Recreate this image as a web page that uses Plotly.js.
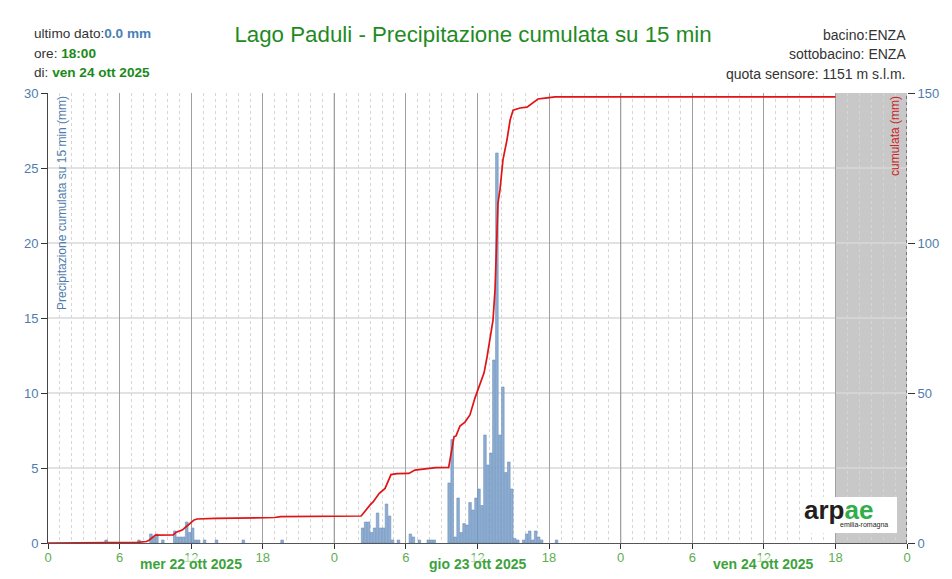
<!DOCTYPE html>
<html><head><meta charset="utf-8">
<script src="https://cdn.plot.ly/plotly-3.0.1.min.js"></script>
<style>html,body{margin:0;padding:0;background:#fff;} #chart{width:952px;height:579px;}</style>
</head><body><div id="chart"></div>
<script>
// ---- DATA ----
const barTimes = [
 '2025-10-22 04:45','2025-10-22 07:30','2025-10-22 08:30','2025-10-22 08:45','2025-10-22 09:00','2025-10-22 09:30',
 '2025-10-22 10:30','2025-10-22 10:45','2025-10-22 11:00','2025-10-22 11:15','2025-10-22 11:30','2025-10-22 11:45',
 '2025-10-22 12:00','2025-10-22 12:15','2025-10-22 12:30','2025-10-22 13:00','2025-10-22 14:00','2025-10-22 16:15','2025-10-22 19:30',
 '2025-10-23 02:15','2025-10-23 02:30','2025-10-23 02:45','2025-10-23 03:00','2025-10-23 03:15','2025-10-23 03:30',
 '2025-10-23 03:45','2025-10-23 04:00','2025-10-23 04:15','2025-10-23 04:30','2025-10-23 04:45','2025-10-23 05:15',
 '2025-10-23 06:15','2025-10-23 06:30','2025-10-23 07:00','2025-10-23 07:45','2025-10-23 08:00','2025-10-23 08:15',
 '2025-10-23 09:30','2025-10-23 09:45','2025-10-23 10:00','2025-10-23 10:15','2025-10-23 10:30','2025-10-23 10:45',
 '2025-10-23 11:00','2025-10-23 11:15','2025-10-23 11:30','2025-10-23 11:45','2025-10-23 12:00','2025-10-23 12:15',
 '2025-10-23 12:30','2025-10-23 12:45','2025-10-23 13:00','2025-10-23 13:15','2025-10-23 13:30','2025-10-23 13:45',
 '2025-10-23 14:00','2025-10-23 14:15','2025-10-23 14:30','2025-10-23 14:45','2025-10-23 15:00','2025-10-23 15:15',
 '2025-10-23 15:45','2025-10-23 16:00','2025-10-23 16:15','2025-10-23 16:30','2025-10-23 16:45','2025-10-23 17:00',
 '2025-10-23 17:15','2025-10-23 18:30'
];
const barValues = [
 0.2,0.2,0.6,0.4,0.6,0.2,
 0.8,0.4,0.4,0.4,1.4,0.7,
 1.0,0.2,0.2,0.2,0.2,0.2,0.2,
 1.0,1.4,1.4,0.7,1.0,2.0,
 1.0,1.0,2.6,1.8,0.2,0.2,
 0.6,0.4,0.2,0.2,0.2,0.2,
 4.0,6.9,0.4,3.0,0.7,1.3,
 1.2,2.7,2.2,3.0,3.6,2.5,
 7.2,5.2,6.0,12.2,26.0,7.2,
 10.4,4.7,5.4,3.6,0.3,0.2,
 0.2,0.6,0.8,0.2,0.8,0.4,
 0.2,0.2
];
const lineTimes = [
 '2025-10-22 00:00','2025-10-22 04:45','2025-10-22 05:00','2025-10-22 07:30','2025-10-22 08:15','2025-10-22 08:30',
 '2025-10-22 09:00','2025-10-22 10:30','2025-10-22 10:45','2025-10-22 11:15','2025-10-22 11:45','2025-10-22 12:15',
 '2025-10-22 12:30','2025-10-22 14:00','2025-10-22 19:00','2025-10-22 19:30',
 '2025-10-23 02:15','2025-10-23 02:30','2025-10-23 03:00','2025-10-23 03:15','2025-10-23 03:45','2025-10-23 04:15',
 '2025-10-23 04:45','2025-10-23 05:15','2025-10-23 06:15','2025-10-23 06:45','2025-10-23 08:00','2025-10-23 08:30',
 '2025-10-23 09:35','2025-10-23 10:02','2025-10-23 10:12','2025-10-23 10:32','2025-10-23 10:57','2025-10-23 11:22',
 '2025-10-23 11:47','2025-10-23 12:13','2025-10-23 12:33','2025-10-23 12:48','2025-10-23 13:03','2025-10-23 13:18',
 '2025-10-23 13:28','2025-10-23 13:38','2025-10-23 13:43','2025-10-23 13:53','2025-10-23 14:08','2025-10-23 14:28',
 '2025-10-23 14:44','2025-10-23 14:59','2025-10-23 15:34','2025-10-23 16:09','2025-10-23 16:39','2025-10-23 17:04',
 '2025-10-23 17:40','2025-10-23 18:30','2025-10-24 18:00'
];
const lineValues = [
 0,0,0.2,0.2,0.5,1.0,
 2.6,2.7,3.6,4.3,6.0,7.7,
 8.0,8.2,8.5,8.8,
 9.0,10.3,12.7,13.7,16.5,18.2,
 22.8,23.1,23.2,24.3,24.9,25.1,
 25.2,35.4,35.7,39.0,40.3,42.7,
 48.3,52.7,56.7,62.0,67.7,74.3,
 84.3,101.0,113.3,117.7,127.7,134.3,
 141.0,144.3,145.0,145.3,146.7,148.0,
 148.3,148.7,148.7
];
const days = ['2025-10-22','2025-10-23','2025-10-24'];
const dayLabels = ['mer 22 ott 2025','gio 23 ott 2025','ven 24 ott 2025'];
const rangeStart = '2025-10-22 00:00', rangeEnd = '2025-10-25 00:00';
const lastDataTime = '2025-10-24 18:00';
const leftTicks = [0, 5, 10, 15, 20, 25, 30];
const titleText = 'Lago Paduli - Precipitazione cumulata su 15 min';
const infoLeft = [['ultimo dato:', '0.0 mm'], ['ore: ', '18:00'], ['di: ', 'ven 24 ott 2025']];
const infoRight = ['bacino:ENZA', 'sottobacino: ENZA', 'quota sensore: 1151 m s.l.m.'];
const yLeftTitle = 'Precipitazione cumulata su 15 min (mm)';
const yRightTitle = 'cumulata (mm)';

// ---- STYLE ----
const FONT = '"Liberation Sans", Arial, sans-serif';
const HOUR = 3600000;
const plotTop = 93, plotBottom = 543, plotH = 450;
const py = (pix) => (plotBottom - pix) / plotH;

const traces = [
 {type:'bar', x: barTimes, y: barValues, yaxis:'y', width: 13*60000, offset: 60000,
  marker:{color:'#8eaed3', line:{color:'#6d90bb', width:0.6}}, hoverinfo:'skip'},
 {type:'scatter', mode:'lines', x: lineTimes, y: lineValues, yaxis:'y2',
  line:{color:'#e01414', width:1.7}, hoverinfo:'skip'}
];

const shapes = [
 {type:'rect', xref:'x', yref:'paper', x0:lastDataTime, x1:rangeEnd, y0:0, y1:1, fillcolor:'#c8c8c8', line:{width:0}, layer:'below'}
];
// horizontal grid lines (left-axis ticks)
leftTicks.slice(1, -1).forEach(v => {
 shapes.push({type:'line', xref:'paper', yref:'y', x0:0, x1:1, y0:v, y1:v, line:{color:'#d8d8d8', width:1.5}, layer:'between'});
});
shapes.push(
 {type:'line', xref:'x', yref:'paper', x0:days[1]+' 00:00', x1:days[1]+' 00:00', y0:0, y1:1, line:{color:'#555', width:1}, layer:'between'},
 {type:'line', xref:'x', yref:'paper', x0:days[2]+' 00:00', x1:days[2]+' 00:00', y0:0, y1:1, line:{color:'#555', width:1}, layer:'between'},
 {type:'line', xref:'x', yref:'paper', x0:rangeEnd, x1:rangeEnd, y0:0, y1:1, line:{color:'#444', width:1.2, dash:'dot'}, layer:'between'},
 {type:'rect', xref:'paper', yref:'paper', x0:(802-48)/859, x1:(897-48)/859, y0:py(533), y1:py(497), fillcolor:'#ffffff', line:{width:0}, layer:'above'}
);

const annotations = [];
const leftY = [34, 53, 72];
infoLeft.forEach((p, i) => {
 const col = i === 0 ? '#4a7fb5' : '#1a8a1a';
 annotations.push({xref:'paper', yref:'paper', x:0, xshift:-16, y:py(leftY[i]), xanchor:'left', yanchor:'middle', showarrow:false,
  text: p[0] + '<b><span style="color:' + col + '">' + p[1] + '</span></b>', font:{family:FONT, size:13.6, color:'#333'}});
});
const rightY = [35, 54, 74];
infoRight.forEach((t, i) => {
 annotations.push({xref:'paper', yref:'paper', x:1, xshift:1, y:py(rightY[i]), xanchor:'right', yanchor:'middle', showarrow:false,
  text: t, font:{family:FONT, size:14, color:'#333'}});
});
days.forEach((d, i) => {
 annotations.push({xref:'x', yref:'paper', x:d + ' 12:00', y:0, yshift:-21, xanchor:'center', yanchor:'middle', showarrow:false,
  text:'<b>' + dayLabels[i] + '</b>', font:{family:FONT, size:14, color:'#3ca33c'}, bgcolor:'rgba(255,255,255,0.55)', borderpad:0});
});
annotations.push({xref:'paper', yref:'paper', x:0, xshift:5, y:1, yshift:-1, xanchor:'left', yanchor:'top', textangle:-90, showarrow:false,
 text:yLeftTitle, font:{family:FONT, size:12, color:'#4f7cad'}});
annotations.push({xref:'paper', yref:'paper', x:1, xshift:-3, y:1, yshift:-1, xanchor:'right', yanchor:'top', textangle:-90, showarrow:false,
 text:yRightTitle, font:{family:FONT, size:12, color:'#cc2222'}});
annotations.push({xref:'paper', yref:'paper', x:(838-48)/859, y:py(510), xanchor:'center', yanchor:'middle', showarrow:false,
 text:'<b><span style="color:#231f20">arp</span><span style="color:#2fae4a">ae</span></b>', font:{family:FONT, size:26}});
annotations.push({xref:'paper', yref:'paper', x:(864-48)/859, y:py(525), xanchor:'center', yanchor:'middle', showarrow:false,
 text:'emilia-romagna', font:{family:FONT, size:7, color:'#231f20'}});

const layout = {
 width:952, height:579,
 margin:{l:48, r:45, t:93, b:36},
 paper_bgcolor:'#ffffff', plot_bgcolor:'rgba(0,0,0,0)',
 showlegend:false,
 font:{family:FONT, size:13, color:'#333'},
 title:{text:titleText, font:{family:FONT, size:22.3, color:'#1f8b1f'}, xref:'container', yref:'container', x:473/952, xanchor:'center', y:1-34/579, yanchor:'middle'},
 bargap:0,
 xaxis:{type:'date', range:[rangeStart, rangeEnd], tick0:rangeStart, dtick:6*HOUR, tickformat:'%-H',
  showgrid:true, gridcolor:'#a0a0a0', gridwidth:1,
  minor:{dtick:HOUR, showgrid:true, gridcolor:'#d6d6d6', griddash:'3px,3px', gridwidth:1},
  ticks:'outside', ticklen:5, tickcolor:'#333', showline:true, linecolor:'#555', linewidth:1, ticklabelstandoff:-3,
  tickfont:{family:FONT, color:'#5dae50', size:13}, zeroline:false, fixedrange:true},
 yaxis:{range:[0,30], tickvals:leftTicks, showgrid:false, ticks:'outside', ticklen:6, tickcolor:'#333',
  showline:true, linecolor:'#444', linewidth:1, tickfont:{family:FONT, color:'#4f7cad', size:13}, zeroline:false, fixedrange:true},
 yaxis2:{range:[0,150], dtick:50, overlaying:'y', side:'right', showgrid:false, ticks:'outside', ticklen:7, tickcolor:'#333',
  showline:false, tickfont:{family:FONT, color:'#4f7cad', size:13}, zeroline:false, fixedrange:true},
 shapes: shapes,
 annotations: annotations
};

Plotly.newPlot('chart', traces, layout, {displayModeBar:false, staticPlot:true});
</script></body></html>
